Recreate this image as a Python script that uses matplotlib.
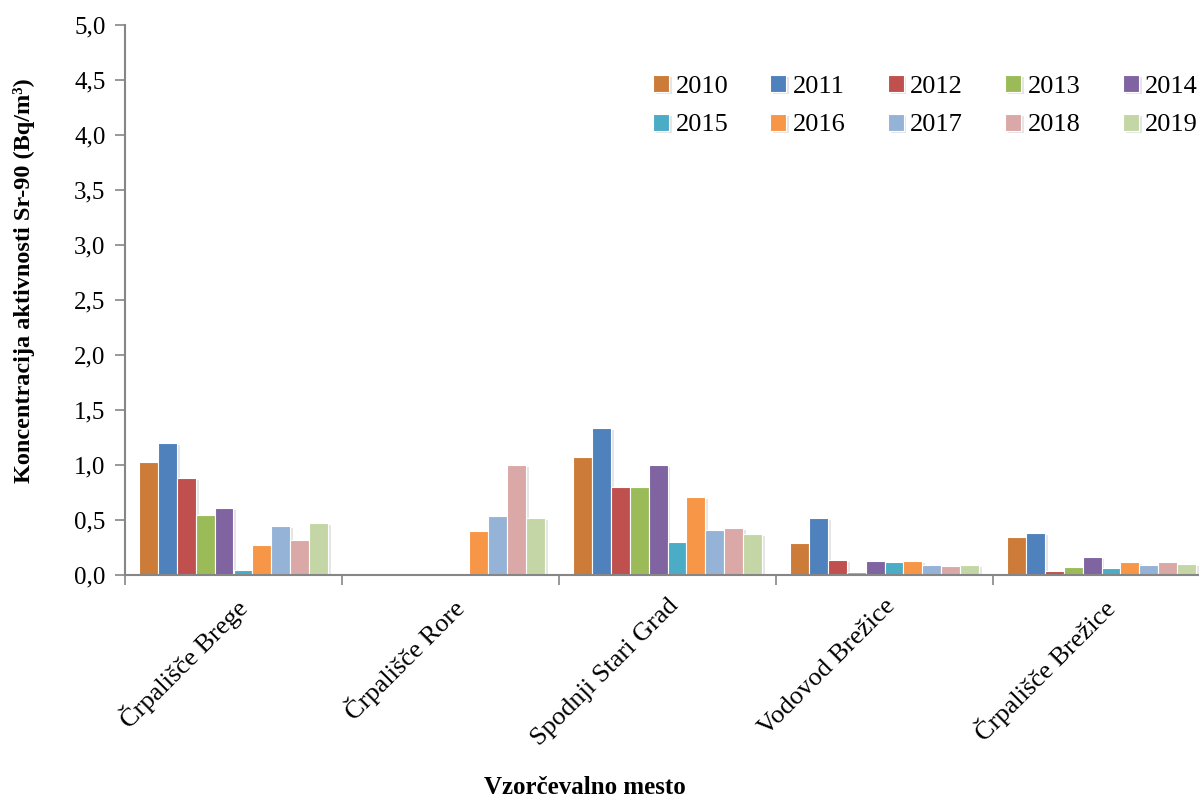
import numpy as np
import matplotlib.pyplot as plt
import matplotlib.patheffects as pe
from matplotlib.ticker import FixedLocator, FuncFormatter

plt.rcParams['font.family'] = ['Liberation Serif', 'DejaVu Serif']

mesta = ["Črpališče Brege", "Črpališče Rore", "Spodnji Stari Grad",
         "Vodovod Brežice", "Črpališče Brežice"]
leta = ["2010", "2011", "2012", "2013", "2014",
        "2015", "2016", "2017", "2018", "2019"]

# Sr-90 (Bq/m3) po letih, vrstni red kot v mesta
v2010 = [1.03, 0.00, 1.07, 0.29, 0.35]
v2011 = [1.20, 0.00, 1.34, 0.52, 0.38]
v2012 = [0.88, 0.00, 0.80, 0.14, 0.04]
v2013 = [0.55, 0.00, 0.80, 0.03, 0.07]
v2014 = [0.61, 0.00, 1.00, 0.13, 0.16]
v2015 = [0.05, 0.00, 0.30, 0.12, 0.06]
v2016 = [0.27, 0.40, 0.71, 0.13, 0.12]
v2017 = [0.45, 0.54, 0.41, 0.09, 0.09]
v2018 = [0.32, 1.00, 0.43, 0.08, 0.12]
v2019 = [0.47, 0.52, 0.37, 0.09, 0.10]
serije = [v2010, v2011, v2012, v2013, v2014, v2015, v2016, v2017, v2018, v2019]

barve = ['#CC7B38', '#4F81BD', '#C0504D', '#9BBB59', '#8064A2',
         '#4BACC6', '#F79646', '#95B3D7', '#DAA8A7', '#C4D6A6']

fig = plt.figure(figsize=(11.99, 8.02), dpi=100)
ax = fig.add_axes([125 / 1199, (802 - 575) / 802, 1085 / 1199, 550 / 802])

x = np.arange(len(mesta))
w = 0.087
handles = []
for i, (vals, c) in enumerate(zip(serije, barve)):
    pos = x - 0.5 + 0.065 + w * (i + 0.5)
    bars = ax.bar(pos, vals, width=w, color=c, edgecolor='white',
                  linewidth=0.8, label=leta[i], zorder=2)
    for b in bars:
        b.set_path_effects([pe.SimplePatchShadow(offset=(2, -1.5), shadow_rgbFace='#808080', alpha=0.2),
                            pe.Normal()])
    handles.append(bars)

ax.set_xlim(-0.5, len(mesta) - 0.5)
ax.set_ylim(0, 5)
ax.yaxis.set_major_locator(FixedLocator(np.arange(0, 5.01, 0.5)))
ax.yaxis.set_major_formatter(FuncFormatter(lambda v, p: f"{v:.1f}".replace('.', ',')))

ax.xaxis.set_major_locator(FixedLocator(np.arange(-0.5, len(mesta), 1.0)))
ax.xaxis.set_major_formatter(FuncFormatter(lambda v, p: ''))
ax.xaxis.set_minor_locator(FixedLocator(x))
ax.set_xticklabels(mesta, minor=True, rotation=45, ha='right', va='top',
                   rotation_mode='anchor', fontsize=19)

for s in ['top', 'right']:
    ax.spines[s].set_visible(False)
for s in ['left', 'bottom']:
    ax.spines[s].set_color('#868686')
    ax.spines[s].set_linewidth(1.5)
ax.tick_params(axis='y', which='major', direction='out', length=7, width=1.2,
               color='#868686', labelsize=18, pad=7)
ax.tick_params(axis='x', which='major', direction='out', length=7, width=1.2, color='#868686')
ax.tick_params(axis='x', which='minor', length=0, pad=14)

ax.set_ylabel("Koncentracija aktivnosti Sr-90 (Bq/m³)", fontsize=17.5, fontweight='bold')
ax.yaxis.set_label_coords(-0.083, 0.535)
fig.text(0.488, 0.004, "Vzorčevalno mesto", fontsize=18, fontweight='bold', ha='center', va='bottom')

# legenda po vrsticah (matplotlib polni po stolpcih)
order = [0, 5, 1, 6, 2, 7, 3, 8, 4, 9]
ax.legend([handles[k] for k in order], [leta[k] for k in order],
          ncol=5, frameon=False, fontsize=19, handlelength=0.6, handleheight=0.6,
          handletextpad=0.25, columnspacing=1.6, labelspacing=0.6,
          loc='center', bbox_to_anchor=(0.772, 0.868), bbox_transform=fig.transFigure)

fig.savefig("out.png", dpi=100)
